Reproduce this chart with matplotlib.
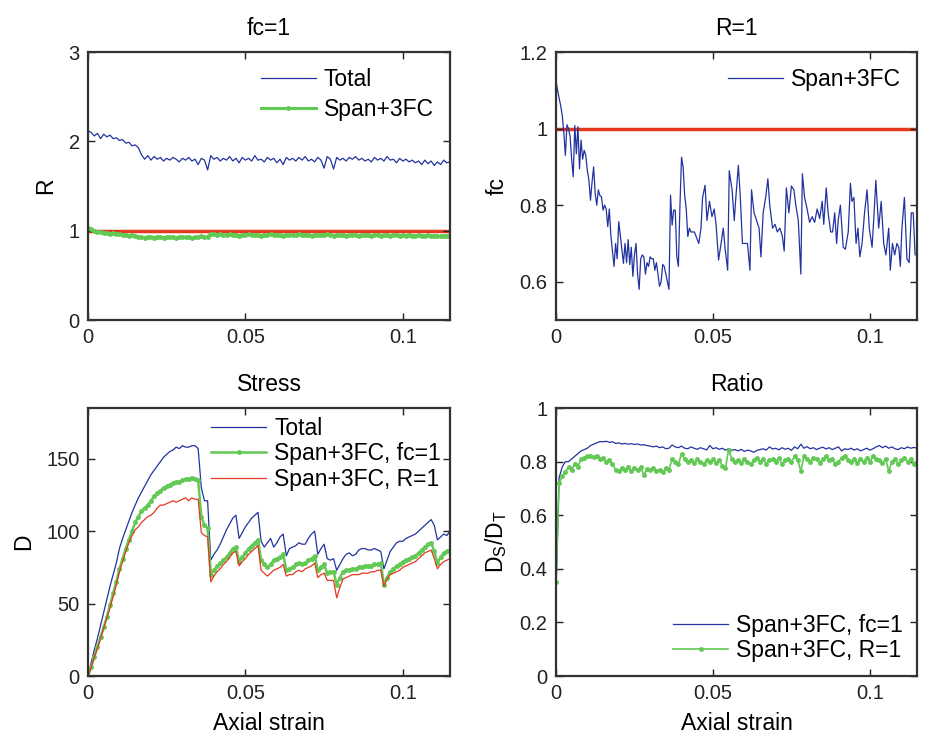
import matplotlib
matplotlib.use('Agg')
import matplotlib.pyplot as plt
import numpy as np
from matplotlib.ticker import FixedLocator, FuncFormatter

plt.rcParams['font.family'] = ['Liberation Sans', 'DejaVu Sans']
plt.rcParams['mathtext.fontset'] = 'custom'
plt.rcParams['mathtext.rm'] = 'Liberation Sans'
plt.rcParams['mathtext.it'] = 'Liberation Sans'

BLUE = '#2233a0'
GREEN = '#62c955'
RED = '#e5391f'

# ---- top left: R at fc=1 (strain step 0.001) ----
R_total = [2.12, 2.10, 2.06, 2.09, 2.03, 2.08, 2.05, 2.07, 2.03, 2.04, 2.01, 2.02, 1.98, 1.99, 1.95, 1.96,
           1.93, 1.85, 1.80, 1.84, 1.79, 1.83, 1.80, 1.82, 1.78, 1.81, 1.79, 1.82, 1.80, 1.77, 1.81, 1.79,
           1.82, 1.78, 1.80, 1.74, 1.81, 1.79, 1.68, 1.84, 1.80, 1.82, 1.78, 1.81, 1.79, 1.83, 1.78, 1.81,
           1.76, 1.82, 1.79, 1.81, 1.78, 1.84, 1.79, 1.80, 1.77, 1.82, 1.79, 1.81, 1.76, 1.80, 1.74, 1.82,
           1.79, 1.81, 1.78, 1.82, 1.79, 1.83, 1.78, 1.80, 1.77, 1.82, 1.79, 1.70, 1.83, 1.80, 1.69, 1.82,
           1.79, 1.81, 1.78, 1.82, 1.80, 1.83, 1.79, 1.81, 1.78, 1.80, 1.77, 1.82, 1.79, 1.81, 1.78, 1.83,
           1.79, 1.80, 1.76, 1.81, 1.78, 1.80, 1.77, 1.79, 1.76, 1.78, 1.74, 1.79, 1.75, 1.78, 1.73, 1.77,
           1.74, 1.79, 1.76, 1.77]
R_span = [1.03, 1.02, 1.00, 0.99, 0.98, 0.975, 0.97, 0.965, 0.97, 0.96, 0.965, 0.955, 0.95, 0.945, 0.95, 0.94,
          0.93, 0.925, 0.92, 0.93, 0.925, 0.92, 0.93, 0.925, 0.92, 0.93, 0.925, 0.93, 0.92, 0.925, 0.93, 0.925,
          0.93, 0.92, 0.925, 0.93, 0.935, 0.925, 0.93, 0.965, 0.96, 0.955, 0.96, 0.95, 0.955, 0.96, 0.95, 0.955,
          0.945, 0.955, 0.95, 0.96, 0.955, 0.95, 0.955, 0.945, 0.955, 0.95, 0.96, 0.955, 0.95, 0.955, 0.945, 0.955,
          0.95, 0.955, 0.95, 0.96, 0.955, 0.95, 0.955, 0.945, 0.955, 0.95, 0.955, 0.95, 0.96, 0.95, 0.945, 0.955,
          0.95, 0.955, 0.945, 0.95, 0.955, 0.95, 0.945, 0.955, 0.95, 0.955, 0.945, 0.95, 0.955, 0.945, 0.95, 0.955,
          0.945, 0.95, 0.955, 0.945, 0.95, 0.945, 0.955, 0.945, 0.94, 0.95, 0.945, 0.94, 0.95, 0.935, 0.945, 0.94,
          0.935, 0.945, 0.94, 0.945]

# ---- top right: fc at R=1 (irregular strain samples) ----
fc_strain = [0, 0.0005, 0.001, 0.0015, 0.002, 0.0025, 0.003, 0.0035, 0.004, 0.0045, 0.005, 0.0055, 0.006,
             0.0065, 0.007, 0.0075, 0.008, 0.0085, 0.009, 0.0095, 0.010, 0.0105, 0.011, 0.0115, 0.012, 0.0125,
             0.013, 0.0135, 0.014, 0.0145, 0.015, 0.0155, 0.016, 0.0165, 0.017, 0.0175, 0.018, 0.0185, 0.019,
             0.0195, 0.020, 0.0205, 0.021, 0.0215, 0.022, 0.0225, 0.023, 0.0235, 0.024, 0.0245, 0.025, 0.0255,
             0.026, 0.0265, 0.027, 0.0275, 0.028, 0.0285, 0.029, 0.0295, 0.030, 0.0305, 0.031, 0.0315, 0.032,
             0.0325, 0.033, 0.0335, 0.034, 0.0345, 0.035, 0.0355, 0.036, 0.0365, 0.037, 0.0375, 0.038, 0.0385,
             0.039, 0.0395, 0.040, 0.0405, 0.041, 0.0415, 0.042, 0.0425, 0.043, 0.0441, 0.0455, 0.0462, 0.0467,
             0.0475, 0.0481, 0.0489, 0.0497, 0.0504, 0.051, 0.0518, 0.0526, 0.0533, 0.0539, 0.0547, 0.0552,
             0.0561, 0.0568, 0.0573, 0.0581, 0.0587, 0.0594, 0.0602, 0.061, 0.0618, 0.0623, 0.0631, 0.0639,
             0.0647, 0.0653, 0.066, 0.0668, 0.0675, 0.0681, 0.069, 0.0698, 0.0705, 0.0713, 0.0721, 0.0727,
             0.0734, 0.0742, 0.075, 0.0758, 0.0764, 0.0772, 0.078, 0.0785, 0.0792, 0.08, 0.0808, 0.0816, 0.0824,
             0.0832, 0.084, 0.0848, 0.0853, 0.0861, 0.0867, 0.0875, 0.0881, 0.0888, 0.0894, 0.0899, 0.0906,
             0.0915, 0.0922, 0.0931, 0.0938, 0.0943, 0.0949, 0.0956, 0.0962, 0.0968, 0.0975, 0.0983, 0.0991,
             0.0998, 0.1007, 0.1012, 0.1019, 0.1028, 0.1036, 0.1044, 0.1051, 0.106, 0.1065, 0.1072, 0.1079,
             0.1086, 0.1092, 0.1097, 0.1102, 0.111, 0.1118, 0.1125, 0.1132, 0.1138, 0.1144]
fc_span = [1.125, 1.10, 1.08, 1.06, 1.035, 0.99, 0.93, 1.01, 1.00, 0.98, 0.92, 0.874, 1.008,
           0.934, 1.005, 0.895, 0.97, 0.92, 0.943, 0.93, 0.89, 0.865, 0.813, 0.86, 0.90, 0.83,
           0.80, 0.84, 0.825, 0.822, 0.787, 0.80, 0.79, 0.744, 0.79, 0.72, 0.68, 0.64, 0.70,
           0.66, 0.757, 0.72, 0.685, 0.648, 0.70, 0.65, 0.71, 0.645, 0.69, 0.614, 0.67, 0.70,
           0.62, 0.58, 0.66, 0.67, 0.665, 0.62, 0.65, 0.64, 0.665, 0.66, 0.66, 0.63, 0.65,
           0.62, 0.588, 0.60, 0.645, 0.64, 0.62, 0.60, 0.58, 0.826, 0.748, 0.787, 0.787, 0.666,
           0.64, 0.80, 0.925, 0.90, 0.826, 0.79, 0.718, 0.74, 0.73, 0.73, 0.70, 0.74, 0.82,
           0.852, 0.76, 0.81, 0.77, 0.79, 0.75, 0.657, 0.70, 0.74, 0.685, 0.63, 0.89,
           0.84, 0.76, 0.82, 0.904, 0.825, 0.70, 0.70, 0.70, 0.63, 0.84, 0.78, 0.76,
           0.74, 0.665, 0.78, 0.82, 0.869, 0.80, 0.74, 0.75, 0.73, 0.74, 0.72, 0.68,
           0.845, 0.78, 0.85, 0.84, 0.80, 0.76, 0.62, 0.882, 0.82, 0.79, 0.755, 0.77, 0.755,
           0.79, 0.765, 0.81, 0.75, 0.845, 0.78, 0.73, 0.73, 0.78, 0.70, 0.76, 0.80,
           0.69, 0.685, 0.73, 0.857, 0.81, 0.82, 0.70, 0.74, 0.665, 0.70, 0.78, 0.84,
           0.74, 0.69, 0.76, 0.865, 0.74, 0.81, 0.70, 0.67, 0.74, 0.63, 0.70, 0.67,
           0.70, 0.69, 0.64, 0.74, 0.82, 0.66, 0.65, 0.78, 0.78, 0.67]

# ---- bottom left: stress D (strain step 0.001) ----
D_total = [0, 9, 18, 26, 35, 44, 53, 62, 70, 78, 88, 95, 101, 107, 113, 118, 123, 127, 131, 135,
           139, 142, 145, 148, 151, 153, 155, 156, 158, 157, 159, 158, 158, 159, 159, 157, 130, 121, 121, 80,
           84, 87, 91, 96, 101, 105, 109, 111, 95, 99, 103, 106, 109, 111, 113, 93, 89, 92, 95, 89,
           92, 96, 98, 83, 88, 89, 90, 92, 91, 91, 95, 98, 100, 84, 88, 91, 81, 80, 81, 73,
           77, 81, 84, 85, 83, 84, 87, 88, 88, 87, 87, 88, 87, 86, 74, 80, 86, 89, 92, 93,
           93, 95, 96, 97, 98, 100, 102, 104, 106, 108, 104, 94, 96, 98, 97, 100]
D_span_fc = [0, 6, 13, 20, 27, 34, 41, 49, 57, 65, 74, 81, 88, 94, 100, 106, 110, 114, 116, 118,
             121, 124, 126, 128, 130, 131, 132, 133, 134, 134, 135, 136, 136, 137, 136, 135, 110, 104, 102, 70,
             73, 76, 78, 80, 82, 85, 88, 89, 79, 82, 85, 88, 90, 92, 94, 80, 77, 75, 77, 80,
             81, 82, 84, 73, 74, 75, 77, 78, 77, 78, 80, 81, 83, 73, 75, 77, 71, 72, 72, 63,
             68, 72, 73, 73, 74, 74, 75, 75, 76, 76, 76, 77, 77, 78, 63, 68, 72, 74, 76, 77,
             79, 80, 81, 82, 83, 85, 87, 89, 91, 92, 86, 78, 82, 85, 86, 87]
D_span_R = [0, 6, 13, 19, 26, 33, 40, 47, 55, 63, 72, 79, 86, 92, 97, 101, 103, 106, 108, 110,
            111, 113, 116, 118, 118, 119, 120, 121, 120, 121, 122, 123, 121, 123, 122, 122, 99, 97, 96, 65,
            69, 72, 74, 77, 79, 82, 85, 86, 76, 79, 81, 84, 86, 88, 90, 73, 71, 69, 71, 73,
            74, 75, 77, 69, 70, 70, 72, 73, 72, 74, 75, 76, 78, 68, 70, 71, 66, 66, 66, 54,
            61, 67, 68, 69, 70, 70, 70, 71, 71, 71, 72, 72, 73, 73, 62, 67, 70, 71, 72, 73,
            75, 76, 77, 78, 79, 81, 83, 85, 86, 87, 81, 74, 77, 79, 80, 81]

# ---- bottom right: ratio D_S/D_T (strain step 0.001) ----
ratio_fc = [0.30, 0.74, 0.78, 0.80, 0.80, 0.81, 0.82, 0.83, 0.84, 0.845, 0.85, 0.86, 0.865, 0.87, 0.875, 0.874,
            0.876, 0.872, 0.874, 0.868, 0.87, 0.866, 0.868, 0.865, 0.867, 0.864, 0.866, 0.862, 0.863, 0.86, 0.858, 0.855,
            0.858, 0.852, 0.855, 0.848, 0.85, 0.862, 0.855, 0.852, 0.858, 0.85, 0.848, 0.855, 0.85, 0.846, 0.852, 0.848,
            0.844, 0.86, 0.848, 0.852, 0.846, 0.85, 0.843, 0.848, 0.842, 0.845, 0.84, 0.846, 0.838, 0.843, 0.84, 0.835,
            0.842, 0.845, 0.848, 0.843, 0.855, 0.847, 0.85, 0.844, 0.852, 0.846, 0.85, 0.842, 0.855, 0.848, 0.865, 0.85,
            0.856, 0.848, 0.852, 0.845, 0.85, 0.854, 0.847, 0.852, 0.845, 0.85, 0.855, 0.84, 0.848, 0.845, 0.85, 0.843,
            0.848, 0.84, 0.845, 0.85, 0.843, 0.848, 0.855, 0.86, 0.852, 0.858, 0.85, 0.855, 0.848, 0.845, 0.852, 0.848,
            0.855, 0.85, 0.853, 0.85]
ratio_R = [0.35, 0.72, 0.745, 0.76, 0.78, 0.77, 0.79, 0.78, 0.81, 0.815, 0.82, 0.822, 0.818, 0.82, 0.81, 0.815,
           0.80, 0.805, 0.79, 0.77, 0.765, 0.775, 0.77, 0.78, 0.765, 0.775, 0.77, 0.78, 0.75, 0.772, 0.768, 0.775,
           0.765, 0.77, 0.76, 0.775, 0.77, 0.81, 0.80, 0.79, 0.83, 0.81, 0.80, 0.805, 0.795, 0.81, 0.80, 0.79,
           0.805, 0.80, 0.81, 0.795, 0.805, 0.785, 0.775, 0.845, 0.81, 0.80, 0.805, 0.795, 0.81, 0.80, 0.79, 0.805,
           0.815, 0.80, 0.81, 0.79, 0.805, 0.81, 0.80, 0.815, 0.79, 0.805, 0.81, 0.80, 0.82, 0.805, 0.765, 0.82,
           0.81, 0.80, 0.815, 0.81, 0.795, 0.81, 0.82, 0.805, 0.81, 0.79, 0.80, 0.815, 0.82, 0.805, 0.80, 0.81,
           0.795, 0.81, 0.80, 0.815, 0.80, 0.82, 0.81, 0.805, 0.795, 0.81, 0.765, 0.80, 0.81, 0.79, 0.805, 0.815,
           0.80, 0.81, 0.79, 0.80]

strain = np.arange(len(R_total)) * 0.001

fig = plt.figure(figsize=(9.3, 7.42), dpi=100)
ax_tl = fig.add_axes([0.0946, 0.5687, 0.3893, 0.3612])
ax_tr = fig.add_axes([0.5978, 0.5687, 0.3882, 0.3612])
ax_bl = fig.add_axes([0.0946, 0.0889, 0.3893, 0.3612])
ax_br = fig.add_axes([0.5978, 0.0889, 0.3882, 0.3612])

fmt = FuncFormatter(lambda v, p: '%g' % round(v, 6))
TICK_FS = 14.5
LABEL_FS = 16.5
LEG_FS = 16.5
LEG_KW = dict(frameon=False, fontsize=LEG_FS, handlelength=2.4, handletextpad=0.35)


def style(ax, yticks, ylim, ylabel, title):
    ax.set_xlim(0, 0.115)
    ax.set_ylim(*ylim)
    ax.xaxis.set_major_locator(FixedLocator([0, 0.05, 0.1]))
    ax.yaxis.set_major_locator(FixedLocator(yticks))
    ax.xaxis.set_major_formatter(fmt)
    ax.yaxis.set_major_formatter(fmt)
    ax.tick_params(direction='in', top=True, right=True, length=5, width=1,
                   labelsize=TICK_FS, pad=6, colors='#222222')
    for s in ax.spines.values():
        s.set_linewidth(1.6)
        s.set_color('#333333')
    ax.set_ylabel(ylabel, fontsize=LABEL_FS, labelpad=8)
    ax.set_title(title, fontsize=LABEL_FS, pad=12)


# top left
ax_tl.plot(strain, R_total, color=BLUE, lw=0.9, label='Total')
ax_tl.plot(strain, R_span, color=GREEN, lw=2.2, marker='o', ms=2.5, label='Span+3FC')
ax_tl.axhline(1, color=RED, lw=2.5, zorder=1)
style(ax_tl, [0, 1, 2, 3], (0, 3), 'R', 'fc=1')
ax_tl.legend(loc='upper right', borderaxespad=0.3, labelspacing=0.3, **LEG_KW)

# top right
ax_tr.plot(fc_strain, fc_span, color=BLUE, lw=0.9, label='Span+3FC')
ax_tr.axhline(1, color=RED, lw=2.5, zorder=1)
style(ax_tr, [0.6, 0.8, 1, 1.2], (0.5, 1.2), 'fc', 'R=1')
ax_tr.legend(loc='upper right', borderaxespad=0.3, **LEG_KW)

# bottom left
ax_bl.plot(strain, D_total, color=BLUE, lw=0.9, label='Total')
ax_bl.plot(strain, D_span_fc, color=GREEN, lw=1.8, marker='o', ms=2.5, label='Span+3FC, fc=1')
ax_bl.plot(strain, D_span_R, color=RED, lw=0.9, label='Span+3FC, R=1')
style(ax_bl, [0, 50, 100, 150], (0, 185), 'D', 'Stress')
ax_bl.set_xlabel('Axial strain', fontsize=LABEL_FS, labelpad=6)
ax_bl.legend(loc='upper right', borderaxespad=0.0, labelspacing=0.1, **LEG_KW)

# bottom right
ax_br.plot(strain, ratio_fc, color=BLUE, lw=0.9, label='Span+3FC, fc=1')
ax_br.plot(strain, ratio_R, color=GREEN, lw=1.2, marker='o', ms=2.5, label='Span+3FC, R=1')
style(ax_br, [0, 0.2, 0.4, 0.6, 0.8, 1], (0, 1), r'$\mathregular{D_S/D_T}$', 'Ratio')
ax_br.set_xlabel('Axial strain', fontsize=LABEL_FS, labelpad=6)
ax_br.legend(loc='lower right', borderaxespad=0.2, labelspacing=0.1, **LEG_KW)

fig.savefig('out.png', dpi=100)
